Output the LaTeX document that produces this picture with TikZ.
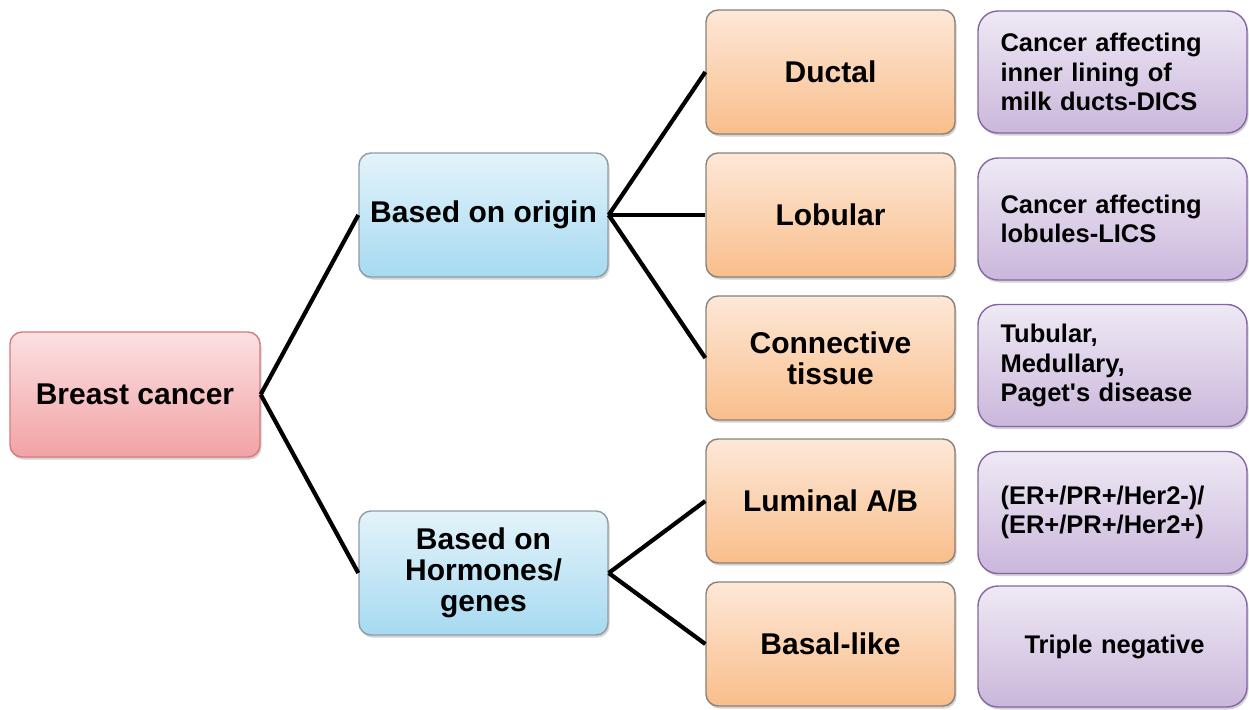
\documentclass[tikz,border=0pt]{standalone}
\usepackage{fontspec}
\setmainfont{Liberation Sans}
\usetikzlibrary{shadows}
\definecolor{redtop}{HTML}{FBE1E3}
\definecolor{redbot}{HTML}{F2A2A5}
\definecolor{redline}{HTML}{D8797C}
\definecolor{bluetop}{HTML}{E4F3FA}
\definecolor{bluebot}{HTML}{A6DAF1}
\definecolor{blueline}{HTML}{8E9CA6}
\definecolor{ortop}{HTML}{FDE8D8}
\definecolor{orbot}{HTML}{F9BE8B}
\definecolor{orline}{HTML}{8A8178}
\definecolor{putop}{HTML}{EFE9F5}
\definecolor{pubot}{HTML}{CAB7DB}
\definecolor{puline}{HTML}{8466A6}
\tikzset{
  box/.style={rounded corners=12pt, line width=1.4pt, align=center,
    inner sep=0pt, font=\fontsize{30}{31}\selectfont\bfseries,
    drop shadow={opacity=0.35, shadow xshift=1.5pt, shadow yshift=-2.5pt}},
  redbox/.style={box, draw=redline, top color=redtop, bottom color=redbot,
    minimum width=250pt, minimum height=125pt},
  bluebox/.style={box, draw=blueline, top color=bluetop, bottom color=bluebot,
    minimum width=249pt, minimum height=124pt},
  orbox/.style={box, draw=orline, top color=ortop, bottom color=orbot,
    minimum width=249pt, minimum height=124pt},
  pubox/.style={box, rounded corners=20pt, draw=puline, top color=putop, bottom color=pubot,
    minimum width=269pt, minimum height=122pt, text width=224pt, inner xsep=22.5pt,
    align=left, font=\fontsize{25.5}{29.5}\selectfont\bfseries},
  conn/.style={line width=4.2pt, black}
}
\begin{document}
\begin{tikzpicture}[x=1pt,y=-1pt]
\useasboundingbox (0,0) rectangle (1249,709);
\node[redbox] (bc) at (135,394.5) {Breast cancer};
\node[bluebox] (orig) at (483.5,215) {Based on origin};
\node[bluebox] (horm) at (483.5,573) {Based on\\Hormones/\\genes};
\node[orbox] (duct) at (830.5,72) {Ductal};
\node[orbox] (lob) at (830.5,215) {Lobular};
\node[orbox] (conn) at (830.5,358) {Connective\\tissue};
\node[orbox] (lum) at (830.5,501) {Luminal A/B};
\node[orbox] (bas) at (830.5,644) {Basal-like};
\node[pubox] (p1) at (1112.5,72) {Cancer affecting\\inner lining of\\milk ducts-DICS};
\node[pubox] (p2) at (1112.5,219) {Cancer affecting\\lobules-LICS};
\node[pubox] (p3) at (1112.5,365.5) {Tubular,\\Medullary,\\Paget\textquotesingle s disease};
\node[pubox] (p4) at (1112.5,512.5) {(ER+/PR+/Her2-)/\\(ER+/PR+/Her2+)};
\node[pubox, align=center, minimum height=121pt] (p5) at (1112.5,646.5) {\hspace*{4pt}Triple negative};
\draw[conn] (bc.east) -- (orig.west);
\draw[conn] (bc.east) -- (horm.west);
\draw[conn] (orig.east) -- (duct.west);
\draw[conn] (orig.east) -- (lob.west);
\draw[conn] (orig.east) -- (conn.west);
\draw[conn] (horm.east) -- (lum.west);
\draw[conn] (horm.east) -- (bas.west);
\end{tikzpicture}
\end{document}
